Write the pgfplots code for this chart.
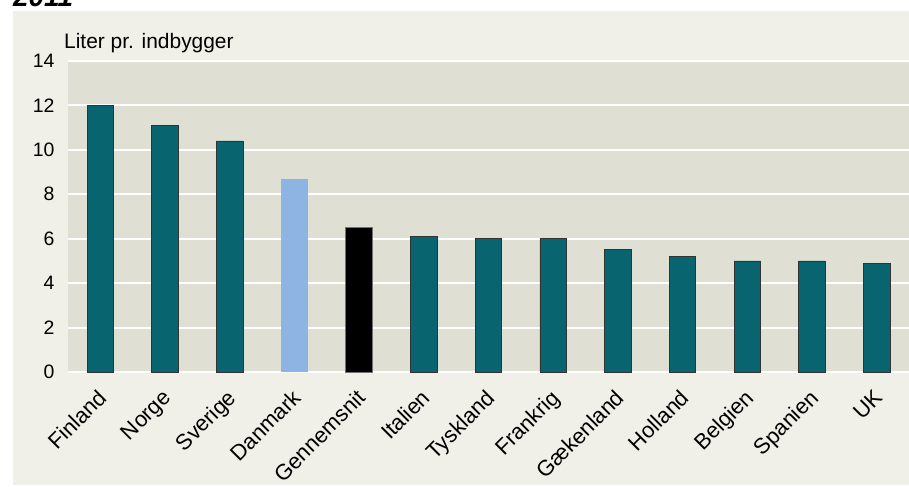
\documentclass[border=0pt]{standalone}
\usepackage{pgfplots}
\pgfplotsset{compat=1.18}
\usepackage{fontspec}
\setmainfont{Liberation Sans}
\definecolor{outerbg}{HTML}{F0EFE8}
\definecolor{plotbg}{HTML}{E0DFD3}
\definecolor{teal}{HTML}{08646F}
\definecolor{dkblue}{HTML}{8EB4E3}
\begin{document}
\begin{tikzpicture}[x=1bp,y=1bp]
\useasboundingbox (0,0) rectangle (909,487);
\fill[white] (0,0) rectangle (909,487);
\fill[outerbg] (13,2) rectangle (909,476);
\node[anchor=base west,inner sep=0pt,font=\fontsize{28}{32}\selectfont\bfseries\itshape] at (13,480) {2011};
\node[anchor=base west,inner sep=0pt,font=\fontsize{21}{24}\selectfont] at (64,438) {Liter pr. indbygger};
\begin{axis}[
  at={(68bp,115bp)}, anchor=south west,
  scale only axis, width=841bp, height=311bp,
  xmin=-0.5, xmax=12.5, ymin=0, ymax=14,
  ytick={0,2,...,14},
  xtick={0,...,12},
  xticklabels={Finland,Norge,Sverige,Danmark,Gennemsnit,Italien,Tyskland,Frankrig,Gækenland,Holland,Belgien,Spanien,UK},
  axis line style={draw=none},
  major tick length=0pt,
  axis background/.style={fill=plotbg},
  ymajorgrids, grid style={white, line width=2pt},
  /pgf/number format/assume math mode=true,
  yticklabel style={font=\fontsize{19.5}{22}\selectfont, text=black, xshift=-10bp},
  xticklabel style={font=\fontsize{22}{26}\selectfont, text=black, rotate=45, anchor=north east, xshift=-10.5bp, yshift=-5.5bp},
  clip=false,
  ybar, bar width=26.5bp, bar shift=0pt,
]
\addplot[fill=teal, draw=black!80, line width=0.8pt] coordinates {(0,12.0) (1,11.1) (2,10.4) (5,6.1) (6,6.0) (7,6.0) (8,5.5) (9,5.2) (10,5.0) (11,5.0) (12,4.9)};
\addplot[fill=dkblue, draw=none] coordinates {(3,8.7)};
\addplot[fill=black, draw=black!55, line width=0.8pt] coordinates {(4,6.5)};
\end{axis}
\end{tikzpicture}
\end{document}
